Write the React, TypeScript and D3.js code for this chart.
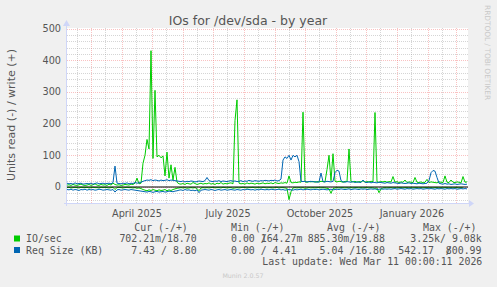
import React from 'react';
import * as d3 from 'd3';

// ---- data (one point every 2 days) ----
const startDate = new Date(2025, 1, 5);
const endDate = new Date(2026, 2, 12);
const stepDays = 2;

// IO/sec, write (+)
const writeIO = [
  6, 7, 5, 8, 6, 5, 7, 9, 6, 5,
  6, 8, 5, 7, 10, 6, 5, 8, 6, 7,
  5, 9, 6, 12, 8, 6, 7, 5, 6, 8,
  7, 6, 9, 8, 12, 28, 10, 12,
  75, 100, 150, 120, 430, 90, 305, 95, 100, 92, 98, 35, 110, 28, 70, 22, 62, 15,
  10, 9, 11, 8, 12, 10, 9, 14, 11, 8, 10, 12, 9, 11,
  10, 13, 9, 11, 8, 12, 10, 14, 9, 11, 10, 12, 13, 10,
  210, 275,
  12, 10, 11, 9, 13, 10, 12, 11, 9, 12, 10, 11, 13, 10,
  12, 11, 13, 10, 14, 12, 11, 13, 12, 14, 12,
  35,
  14, 13, 15, 14, 16,
  15, 236, 16, 15, 17, 16, 18, 15, 17, 16, 18, 17, 16,
  55, 100, 20, 105, 18,
  16, 18, 17, 15, 18, 17,
  120,
  17, 16, 18, 15, 17, 16, 20, 15, 17, 16, 18, 17,
  235,
  16, 15, 17, 16, 18, 15, 17, 16,
  33,
  15, 17, 14, 16, 15, 22, 14, 16, 15, 14,
  30,
  15, 14, 16, 13, 15, 24, 14, 16, 15, 14, 13, 16, 15, 14,
  35,
  15, 14, 22, 15, 14, 16, 15, 13, 33, 15, 16,
];

// IO/sec, read (-)
const readIO = [
  -2, -1, -3, -2, -1, -2, -3, -1, -2, -2,
  -1, -3, -2, -1, -2, -2, -3, -1, -2, -1,
  -2, -3, -2, -1, -8, -2, -1, -2, -3, -2,
  -1, -2, -2, -3, -2, -4, -3, -5,
  -8, -10, -12, -9, -11, -8, -10, -12, -9, -11, -10, -8, -12, -9, -11, -8, -6, -4,
  -3, -2, -3, -2, -4, -3, -2, -3, -2, -5, -12, -3, -2, -3,
  -2, -3, -2, -1, -3, -2, -2, -3, -1, -2, -3, -2, -2, -4, -3, -2, -3, -2, -1, -2,
  -3, -2, -2, -1, -3, -2, -2, -3, -1, -2, -3, -2, -2, -3, -2, -1, -3, -2, -2, -3, -4,
  -40, -15,
  -3, -2, -3, -2, -3, -2, -4, -3, -2, -3, -2, -3, -2, -2, -3, -2, -3, -4, -6,
  -20, -5,
  -3, -2, -3, -2, -2, -3, -2, -3, -2, -3, -2, -2, -3, -2, -3, -2, -2, -3, -2, -3, -4, -3,
  -18, -6,
  -3, -2, -3, -2, -2, -3, -2, -3, -2, -2, -3, -2, -2, -3, -2, -3, -2, -2, -3, -2,
  -3, -2, -2, -3, -2, -3, -2, -2, -3, -2, -3, -2, -2, -3, -2, -3, -2, -2, -3, -2, -3,
];

// Req Size (KB), write (+)
const writeSize = [
  12, 10, 11, 9, 13, 10, 11, 12, 9, 10,
  11, 10, 12, 9, 11, 13, 10, 11, 12, 10,
  11, 12, 10, 14, 66, 12, 11, 10, 12, 11,
  13, 10, 12, 11, 14, 12, 13, 15,
  18, 20, 22, 21, 23, 20, 22, 21, 19, 22, 20, 21, 23, 20, 22, 21, 20, 19,
  18, 17, 19, 16, 18, 17, 19, 18, 16, 17, 19, 18, 17, 20,
  30, 20, 18, 17, 19, 18, 20, 17, 19, 18, 17, 19, 20, 18,
  19, 17, 18, 20, 17, 19, 18, 21, 19, 18, 20, 19, 18, 20, 19, 21,
  20, 19, 21, 20, 22, 19, 20, 25,
  85, 95, 90, 100, 85, 100, 95, 100, 80,
  18,
  17, 18, 16, 17, 18, 16, 17, 15, 16,
  44,
  17, 16, 18, 17, 16, 18,
  45, 53, 50,
  20, 16, 15, 17,
  16, 15, 17, 14, 16, 15, 14, 22, 15, 14, 16, 13, 15, 14, 13, 15, 14, 13, 12, 14,
  13, 12, 14, 13, 12, 11, 13, 12, 11, 12, 13, 11, 12, 11, 10, 12, 11, 10, 11, 12,
  20, 45, 52, 50, 30, 12,
  10, 9, 11, 9, 10, 8, 9, 10, 8, 9, 10, 9, 8, 9,
];

// Req Size (KB), read (-)
const readSize = [
  -8, -9, -7, -10, -8, -9, -11, -8, -9, -7, -10, -8, -9, -8, -10, -9, -7, -8, -10, -9,
  -8, -9, -10, -8, -16, -9, -8, -10, -9, -8, -9, -10, -8, -9, -10, -11, -12, -13,
  -14, -15, -16, -14, -15, -17, -15, -14, -16, -15, -14, -16, -15, -13, -14, -15, -13, -12,
  -10, -9, -11, -8, -10, -9, -11, -10, -12, -9, -18, -10, -9, -8,
  -9, -10, -8, -9, -11, -9, -8, -10, -9, -8, -10, -9, -8, -9, -10, -8, -9, -10, -8, -9,
  -7, -8, -9, -8, -10, -8, -9, -7, -8, -9,
  -8, -9, -7, -8, -9, -8, -7, -9, -8, -10, -9, -8, -9, -10, -8, -9, -8, -7, -9, -8,
  -7, -8, -9, -7, -8, -7, -9, -8, -7, -8, -9,
  -8, -7, -9, -8, -7, -8, -6, -7, -8, -7, -6, -8, -7, -6, -7, -8, -6, -7, -6, -8,
  -7, -6, -7, -6, -8, -7, -6, -7, -6, -7,
  -6, -7, -6, -5, -7, -6, -5, -6, -7, -5, -6, -5, -7, -6, -5, -6, -5, -7, -6, -5,
  -6, -5, -6, -7, -5, -6, -5, -6, -7, -5, -6, -5, -6, -5, -7, -6, -5, -6, -5, -6,
];

const yTicks = [0, 100, 200, 300, 400, 500];
const yMinor = [-40, -20, 20, 40, 60, 80, 120, 140, 160, 180, 220, 240, 260, 280, 320, 340, 360, 380, 420, 440, 460, 480];
const xLabelDates = [new Date(2025, 3, 16), new Date(2025, 6, 16), new Date(2025, 9, 16), new Date(2026, 0, 16)];
const xLabelTexts = ['April 2025', 'July 2025', 'October 2025', 'January 2026'];

const title = 'IOs for /dev/sda - by year';
const yLabel = 'Units read (-) / write (+)';
const legendNames = ['IO/sec', 'Req Size (KB)'];
const legendColors = ['#00CC00', '#0066B3'];
const legendHeaders = ['Cur (-/+)', 'Min (-/+)', 'Avg (-/+)', 'Max (-/+)'];
const curValues = ['702.21m/18.70', '7.43 / 8.80'];
const avgValues = ['885.30m/19.88', '5.04 /16.80'];
const minRow1Neg = '0.00 ';
const minRow1Pos = '164.27m';
const minRow2 = '0.00 / 4.41';
const maxRow1 = '3.25k/ 9.08k';
const maxRow2Neg = '542.17  ';
const maxRow2Pos = '800.99';
const lastUpdate = 'Last update: Wed Mar 11 00:00:11 2026';
const muninVersion = 'Munin 2.0.57';
const rrdWatermark = 'RRDTOOL / TOBI OETIKER';

// ---- layout ----
const W = 497;
const H = 287;
const PL = 67;
const PR = 467;
const PT = 28.5;
const PB = 203;
const CW = 5.96; // monospace cell width

const FONT = "'DejaVu Sans', sans-serif";
const MONO = "'DejaVu Sans Mono', monospace";
const TXT = '#555555';

export default function App() {
  const x = d3.scaleTime().domain([startDate, endDate]).range([PL, PR]);
  const y = d3.scaleLinear().domain([-50.5, 500]).range([PB, PT]);

  const toPts = (arr: number[]) => arr.map((v, i) => ({ d: d3.timeDay.offset(startDate, i * stepDays), v }));
  const line = d3
    .line<{ d: Date; v: number }>()
    .x((p) => x(p.d))
    .y((p) => y(p.v));

  const months = d3.timeMonth.range(d3.timeMonth.ceil(startDate), endDate);
  const mids = d3.timeMonth
    .range(d3.timeMonth.floor(startDate), endDate)
    .map((m) => d3.timeDay.offset(m, 14))
    .filter((d) => d > startDate && d < endDate);

  const ax = (v: number) => Math.round(v) + 0.5;

  const minorColor = 'rgba(150,150,150,0.4)';
  const majorColor = 'rgba(240,110,110,0.42)';

  const legendY = [242, 253.5];

  return (
    <svg
      width={W}
      height={H}
      style={{ position: 'absolute', left: 0, top: 0, display: 'block' }}
      xmlns="http://www.w3.org/2000/svg"
    >
      <rect x={0} y={0} width={W} height={H} fill="#F0F0F0" />
      <rect x={PL} y={28} width={PR - PL + 1} height={PB - 28} fill="#FFFFFF" />

      {/* grid */}
      <g shapeRendering="crispEdges" strokeWidth={1} strokeDasharray="1,1">
        {yMinor.map((v) => (
          <line key={'ym' + v} x1={PL} x2={PR + 1} y1={ax(y(v))} y2={ax(y(v))} stroke={minorColor} />
        ))}
        {mids.map((d, i) => (
          <line key={'xm' + i} x1={ax(x(d))} x2={ax(x(d))} y1={28} y2={PB} stroke={minorColor} />
        ))}
        {yTicks.map((v) => (
          <line key={'yM' + v} x1={PL} x2={PR + 1} y1={ax(y(v))} y2={ax(y(v))} stroke={majorColor} />
        ))}
        {months.map((d, i) => (
          <line key={'xM' + i} x1={ax(x(d))} x2={ax(x(d))} y1={28} y2={PB} stroke={majorColor} />
        ))}
      </g>

      {/* series */}
      <g fill="none" strokeWidth={1} strokeLinejoin="round">
        <path d={line(toPts(readIO)) || ''} stroke="#00CC00" />
        <path d={line(toPts(writeIO)) || ''} stroke="#00CC00" />
        <path d={line(toPts(readSize)) || ''} stroke="#0066B3" />
        <path d={line(toPts(writeSize)) || ''} stroke="#0066B3" />
      </g>
      <line x1={PL} x2={PR + 1} y1={y(0)} y2={y(0)} stroke="#000000" strokeWidth={1.2} />

      {/* axes */}
      <g shapeRendering="crispEdges" stroke="#CFD6F8" strokeWidth={1}>
        <line x1={PL - 3} x2={PR + 3} y1={ax(PB)} y2={ax(PB)} />
        <line x1={ax(PL - 1)} x2={ax(PL - 1)} y1={PB + 3} y2={24} />
      </g>
      <path d={`M${PR + 2},${PB - 3} L${PR + 7},${PB + 0.5} L${PR + 2},${PB + 4} Z`} fill="#CFD6F8" />
      <path d={`M${PL - 4},${26} L${PL - 0.5},${20} L${PL + 3},${26} Z`} fill="#CFD6F8" />

      {/* y tick labels */}
      <g fontFamily={FONT} fontSize={9.7} fill={TXT} textAnchor="end">
        {yTicks.map((v) => (
          <text key={'yl' + v} x={61} y={y(v) + 3.5}>
            {v}
          </text>
        ))}
      </g>
      {/* x labels */}
      <g fontFamily={FONT} fontSize={9.7} fill={TXT} textAnchor="middle">
        {xLabelDates.map((d, i) => (
          <text key={'xl' + i} x={x(d)} y={216.5}>
            {xLabelTexts[i]}
          </text>
        ))}
      </g>

      {/* title */}
      <text x={248} y={25} fontFamily={FONT} fontSize={12.5} fill={TXT} textAnchor="middle">
        {title}
      </text>
      {/* y label */}
      <text
        transform={`translate(14.5,${115}) rotate(-90)`}
        fontFamily={FONT}
        fontSize={11}
        fill={TXT}
        textAnchor="middle"
      >
        {yLabel}
      </text>
      {/* watermark right */}
      <text transform="translate(485,5) rotate(90)" fontFamily={FONT} fontSize={7.4} fill="#C8C8C8">
        {rrdWatermark}
      </text>

      {/* legend */}
      <g fontFamily={MONO} fontSize={9.9} fill={TXT} style={{ whiteSpace: 'pre' }}>
        <text x={134.3} y={231}>{legendHeaders[0]}</text>
        <text x={231} y={231}>{legendHeaders[1]}</text>
        <text x={327} y={231}>{legendHeaders[2]}</text>
        <text x={423} y={231}>{legendHeaders[3]}</text>

        {legendNames.map((n, i) => (
          <g key={'lg' + i}>
            <rect x={14} y={legendY[i] - 6.5} width={6} height={6} fill={legendColors[i]} />
            <text x={26} y={legendY[i]}>{n}</text>
            <text x={196.7} y={legendY[i]} textAnchor="end">{curValues[i]}</text>
            <text x={385} y={legendY[i]} textAnchor="end">{avgValues[i]}</text>
          </g>
        ))}
        <text x={231} y={legendY[0]} xmlSpace="preserve">
          {minRow1Neg}
          <tspan>/</tspan>
          <tspan dx={-CW}>{minRow1Pos}</tspan>
        </text>
        <text x={231} y={legendY[1]} xmlSpace="preserve">{minRow2}</text>
        <text x={481.7} y={legendY[0]} textAnchor="end">{maxRow1}</text>
        <text x={398.3} y={legendY[1]} xmlSpace="preserve">
          {maxRow2Neg}
          <tspan>/</tspan>
          <tspan dx={-CW}>{maxRow2Pos}</tspan>
        </text>

        <text x={482.3} y={265} textAnchor="end">{lastUpdate}</text>
      </g>
      <text x={243} y={278} fontFamily={FONT} fontSize={6.3} fill="#C8C8C8" textAnchor="middle">
        {muninVersion}
      </text>
    </svg>
  );
}
